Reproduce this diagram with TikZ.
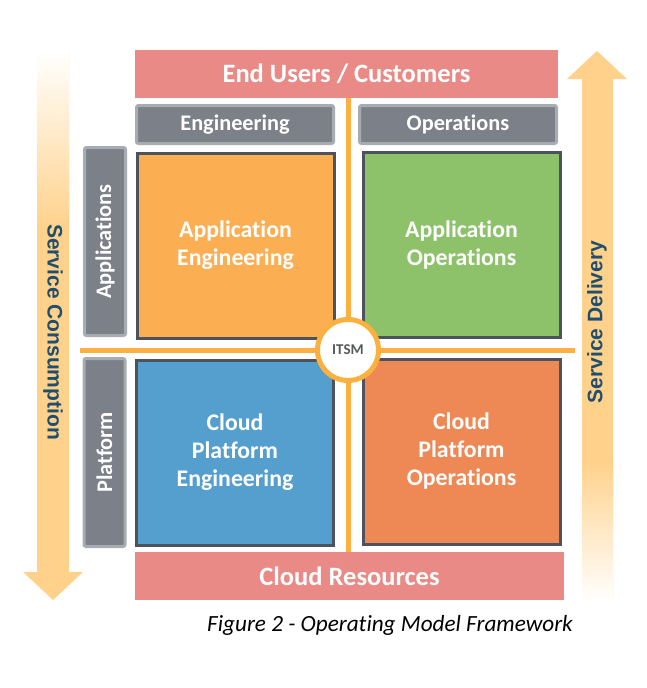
\documentclass[tikz,border=0pt]{standalone}
\usepackage{fontspec}
\setmainfont{Carlito}[Ligatures=NoCommon]
\newfontfamily\arrowfont{Liberation Sans}
\definecolor{barpink}{HTML}{E98A87}
\definecolor{headgray}{HTML}{7C8089}
\definecolor{headrim}{HTML}{A7ABB2}
\definecolor{quadrim}{HTML}{4D535C}
\definecolor{appeng}{HTML}{FBAE52}
\definecolor{appops}{HTML}{8DC26A}
\definecolor{cloudeng}{HTML}{559FCF}
\definecolor{cloudops}{HTML}{EE8854}
\definecolor{axisline}{HTML}{FBB040}
\definecolor{flowarrow}{HTML}{FFD18A}
\definecolor{flowtext}{HTML}{1F4E6E}
\definecolor{itsmtext}{HTML}{58595B}
\begin{document}
\begin{tikzpicture}[x=1pt,y=-1pt,
	bar/.style={fill=barpink,text=white,inner sep=0,minimum height=48pt,font=\bfseries\fontsize{26.5}{30}\selectfont},
	head/.style={fill=headgray,draw=headrim,line width=3pt,rounded corners=2pt,text=white,inner sep=0,minimum width=197pt,minimum height=38pt,font=\bfseries\fontsize{22.3}{25}\selectfont},
	tab/.style={head,rotate=90,minimum width=188pt,minimum height=41pt},
	quad/.style={draw=quadrim,line width=3pt,text=white,align=center,inner sep=0,minimum width=197pt,minimum height=185pt,font=\bfseries\fontsize{23.8}{28}\selectfont},
	axis/.style={draw=axisline,line width=5pt},
	flow/.style={text=flowtext,font=\arrowfont\bfseries\fontsize{21}{24}\selectfont}]
	\useasboundingbox (0,0) rectangle (646,688);
	\fill [flowarrow] (37,52) -- (69,52) -- (69,572) -- (83,572) -- (53,600) -- (23,572) -- (37,572) -- cycle;
	\shade [top color=white,bottom color=flowarrow] (37,51) rectangle (69,230);
	\fill [flowarrow] (582,600) -- (613,600) -- (613,79) -- (627,79) -- (597,51) -- (567,79) -- (582,79) -- cycle;
	\shade [top color=flowarrow,bottom color=white] (582,460) rectangle (613,601);
	\node [flow,rotate=-90] (consume) at (53,332) {Service Consumption};
	\node [flow,rotate=90] (deliver) at (597,322) {Service Delivery};
	\node [bar,minimum width=423pt] (users) at (346.5,74) {End Users / Customers};
	\node [bar,minimum width=429pt] (res) at (349.5,576) {Cloud Resources};
	\coordinate (hl) at (80,350);
	\coordinate (hr) at (575,350);
	\coordinate (itsmc) at (348,350);
	\draw [axis] (hl) -- (hr);
	\draw [axis] (itsmc |- users.south) -- (itsmc |- res.north);
	\node [head] (eng) at (235,124.5) {Engineering};
	\node [head] (ops) at (458,124.5) {Operations};
	\node [tab] (apps) at (105,241.5) {Applications};
	\node [tab] (plat) at (104.5,452.5) {Platform};
	\node [quad,fill=appeng] (ae) at (235.5,245.5) {Application\\Engineering};
	\node [quad,fill=appops] (ao) at (461.5,245) {Application\\Operations};
	\node [quad,fill=cloudeng] (ce) at (235,452.5) {Cloud\\Platform\\Engineering};
	\node [quad,fill=cloudops] (co) at (461.5,451.5) {Cloud\\Platform\\Operations};
	\node [circle,draw=axisline,line width=5pt,fill=white,minimum size=61pt,inner sep=0,text=itsmtext,font=\bfseries\fontsize{15}{18}\selectfont] (itsm) at (itsmc) {ITSM};
	\node [font=\itshape\fontsize{23.2}{28}\selectfont] (caption) at (390,625) {Figure 2 - Operating Model Framework};
\end{tikzpicture}
\end{document}
